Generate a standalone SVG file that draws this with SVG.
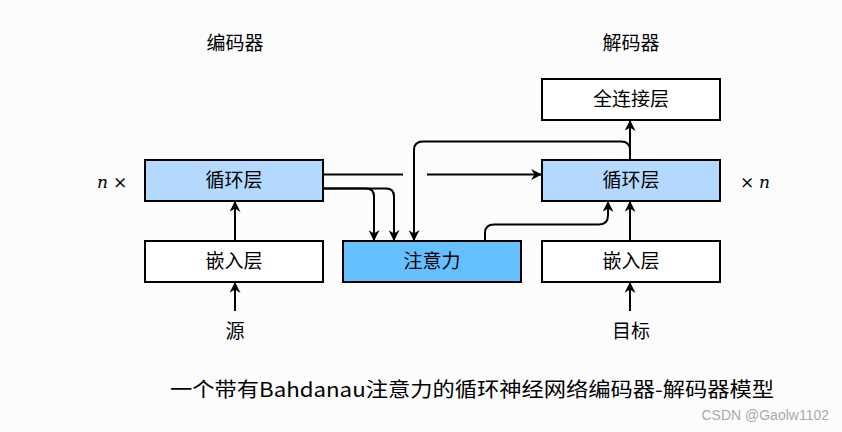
<svg xmlns="http://www.w3.org/2000/svg" width="842" height="432" viewBox="0 0 842 432">
<defs>
<style>
.box{stroke:#000;stroke-width:2}
.w{fill:#fff}
.rnn{fill:#b3d9ff}
.att{fill:#66bfff}
.t{font-family:"Noto Sans CJK SC","Noto Sans",sans-serif;font-size:19px;fill:#000;text-anchor:middle}
.h{font-family:"Noto Sans CJK SC","Noto Sans",sans-serif;font-size:19px;fill:#000;text-anchor:middle}
.c{fill:none;stroke:#000;stroke-width:2}
.it{font-family:"DejaVu Serif","Liberation Serif",serif;font-size:17px;fill:#000}
</style>
<marker id="ah" viewBox="0 0 10 10" refX="9" refY="5" markerWidth="5.5" markerHeight="5.5" orient="auto" markerUnits="strokeWidth">
<path d="M0,0 L10,5 L0,10 L3,5 Z" fill="#000"/>
</marker>
</defs>
<rect width="842" height="432" fill="#fcfcfc"/>
<text class="h" x="235" y="50">编码器</text>
<text class="h" x="631" y="50">解码器</text>
<text class="it" x="97" y="188" font-style="italic">n</text>
<text class="it" x="113" y="188">×</text>
<text class="it" x="740" y="188">×</text>
<text class="it" x="759" y="188" font-style="italic">n</text>
<g id="enc-rnn"><rect class="box rnn" x="145" y="160" width="178" height="41"/><text class="t" x="234" y="187">循环层</text></g>
<g id="enc-emb"><rect class="box w" x="145" y="241" width="178" height="41"/><text class="t" x="234" y="268">嵌入层</text></g>
<g id="attention"><rect class="box att" x="343" y="241" width="178" height="41"/><text class="t" x="432" y="268">注意力</text></g>
<g id="dec-fc"><rect class="box w" x="542" y="79" width="178" height="41"/><text class="t" x="631" y="106">全连接层</text></g>
<g id="dec-rnn"><rect class="box rnn" x="542" y="160" width="178" height="41"/><text class="t" x="631" y="187">循环层</text></g>
<g id="dec-emb"><rect class="box w" x="542" y="241" width="178" height="41"/><text class="t" x="631" y="268">嵌入层</text></g>
<g id="src"><text class="h" x="235" y="338">源</text></g>
<g id="tgt"><text class="h" x="631" y="338">目标</text></g>
<g id="connectors">
<path class="c" marker-end="url(#ah)" d="M235,311 L235,283"/>
<path class="c" marker-end="url(#ah)" d="M235,241 L235,202"/>
<path class="c" marker-end="url(#ah)" d="M630,311 L630,283"/>
<path class="c" marker-end="url(#ah)" d="M630,241 L630,202"/>
<path class="c" marker-end="url(#ah)" d="M630,160 L630,121"/>
<path class="c" d="M323,174.5 L403,174.5"/>
<path class="c" marker-end="url(#ah)" d="M427,174.5 L541,174.5"/>
<path class="c" marker-end="url(#ah)" d="M323,188.5 L366,188.5 Q374,188.5 374,196.5 L374,240"/>
<path class="c" marker-end="url(#ah)" d="M323,188.5 L386,188.5 Q394,188.5 394,196.5 L394,240"/>
<path class="c" marker-end="url(#ah)" d="M630,160 L630,150 Q630,141.5 621,141.5 L423,141.5 Q414,141.5 414,150 L414,240"/>
<path class="c" marker-end="url(#ah)" d="M485,241 L485,233 Q485,224.5 494,224.5 L599,224.5 Q608,224.5 608,215 L608,202"/>
</g>
<text x="472" y="397" font-family="Noto Sans CJK SC,Noto Sans,sans-serif" font-size="20" text-anchor="middle" fill="#000" textLength="604" lengthAdjust="spacingAndGlyphs">一个带有Bahdanau注意力的循环神经网络编码器-解码器模型</text>
<text x="829" y="420" font-family="Liberation Sans,Arial,sans-serif" font-size="14" text-anchor="end" fill="#aaa">CSDN @Gaolw1102</text>
</svg>
